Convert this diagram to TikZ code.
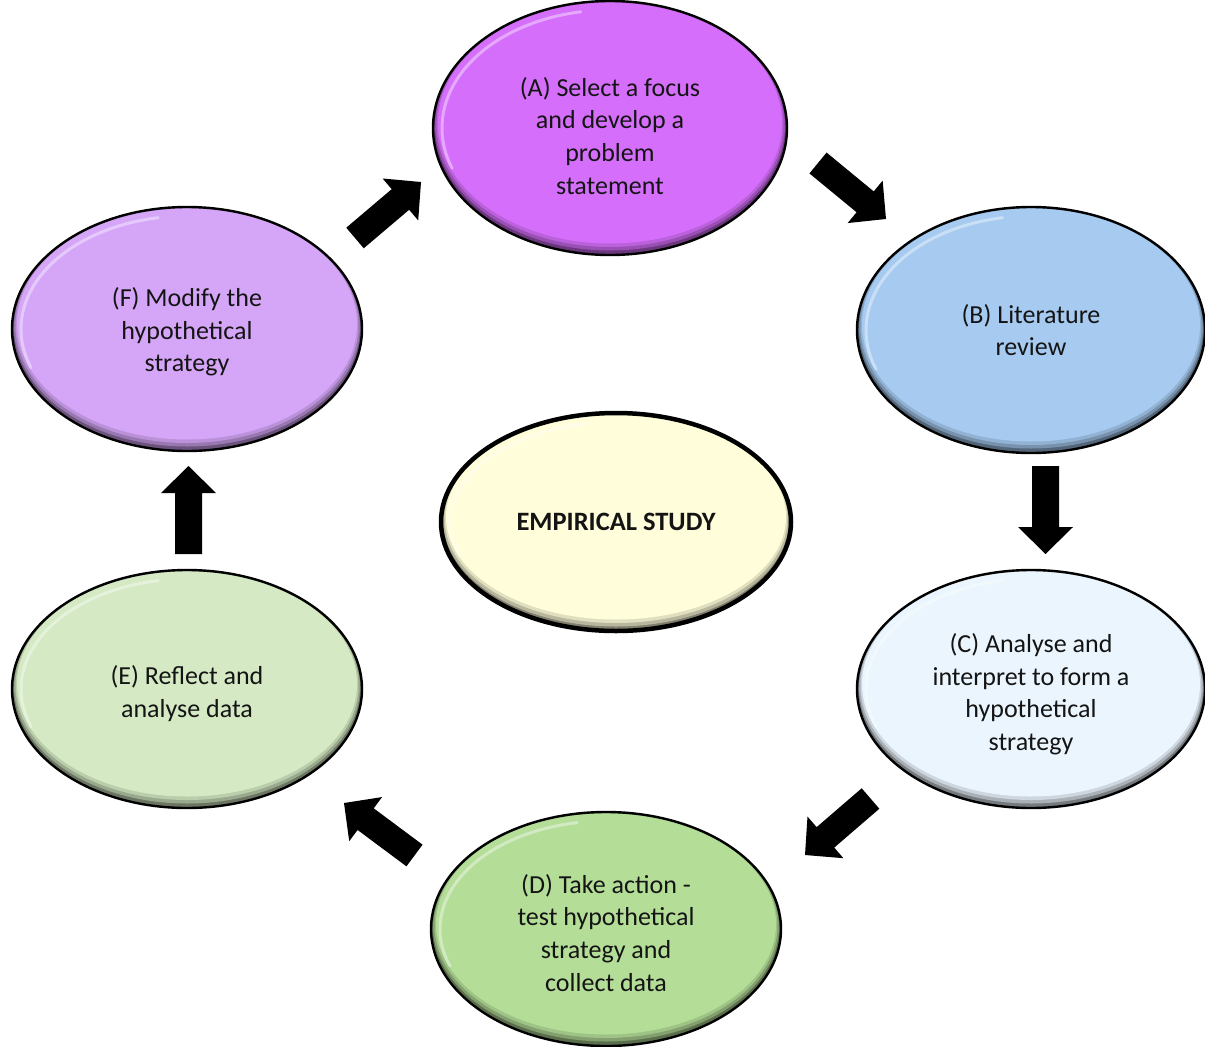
\documentclass[tikz,border=0pt]{standalone}
\usepackage{fontspec}
\setmainfont{Carlito}
\usetikzlibrary{shapes.geometric,calc}

\definecolor{fillA}{RGB}{213,110,250}
\definecolor{fillB}{RGB}{166,202,240}
\definecolor{fillC}{RGB}{234,245,253}
\definecolor{fillD}{RGB}{180,221,152}
\definecolor{fillE}{RGB}{213,234,196}
\definecolor{fillF}{RGB}{213,166,248}
\definecolor{fillM}{RGB}{255,253,218}
\definecolor{ink}{RGB}{20,20,20}

\tikzset{
  % raised rim: darker band along the lower edge, light gleam at the upper left
  bevel/.style={path picture={
    \coordinate (pc) at (path picture bounding box.center);
    \coordinate (pr) at (path picture bounding box.north east);
    \fill[#1!50!black] (path picture bounding box.south west) rectangle (path picture bounding box.north east);
    \fill[#1!72!black] let \p1=(pc), \p2=(pr) in ([yshift=2pt]pc) ellipse ({\x2-\x1-2pt} and {\y2-\y1-2.5pt});
    \fill[#1!88!black] let \p1=(pc), \p2=(pr) in ([yshift=3.5pt]pc) ellipse ({\x2-\x1-3.5pt} and {\y2-\y1-4.5pt});
    \fill[#1] let \p1=(pc), \p2=(pr) in ([yshift=5pt]pc) ellipse ({\x2-\x1-5pt} and {\y2-\y1-6.5pt});
    \draw[white, opacity=.4, line width=3pt, line cap=round]
      let \p1=(pc), \p2=(pr), \n1={\x2-\x1-9pt}, \n2={\y2-\y1-9pt} in
      ([xshift={\n1*cos(200)}, yshift={\n2*sin(200)}]pc)
      arc[start angle=200, end angle=100, x radius=\n1, y radius=\n2];
  }},
  stage/.style={ellipse, draw=black, line width=2.4pt, fill=#1, bevel=#1,
    inner sep=0pt, align=center, text=ink,
    font=\fontsize{26}{32.7}\selectfont},
  hub/.style={stage=#1, line width=4.5pt, font=\fontsize{26.5}{32}\selectfont\bfseries},
  arrowfill/.style={fill=black}
}

% taller first line, so the wording sits a little below the middle
\newcommand\topgap[1]{\rule{0pt}{#1}}

% solid block arrow from #1 (tail) to #2 (tip)
\newcommand\blockarrow[2]{%
  \path ($(#2)!27pt!(#1)$) coordinate (hb);
  \fill[arrowfill] ($(#1)!13.5pt!90:(#2)$) -- ($(hb)!13.5pt!90:(#2)$)
    -- ($(hb)!27.5pt!90:(#2)$) -- (#2) -- ($(hb)!27.5pt!-90:(#2)$)
    -- ($(hb)!13.5pt!-90:(#2)$) -- ($(#1)!13.5pt!-90:(#2)$) -- cycle;
}

\begin{document}
\begin{tikzpicture}[x=1pt, y=-1pt]
  \useasboundingbox[fill=white] (0,0) rectangle (1205,1047);

  \node[stage=fillA, minimum width=354pt, minimum height=254pt] (A) at (610,128)
    {\topgap{34.5pt}(A) Select a focus\\and develop a\\problem\\statement};
  \node[stage=fillB, minimum width=348pt, minimum height=246pt] (B) at (1031,330)
    {(B) Literature\\review};
  \node[stage=fillC, minimum width=348pt, minimum height=238pt] (C) at (1031,689)
    {\topgap{29.5pt}(C) Analyse and\\interpret to form a\\hypothetical\\strategy};
  \node[stage=fillD, minimum width=350pt, minimum height=234pt] (D) at (606,929)
    {\topgap{26.5pt}(D) Take action -\\test hypothetical\\strategy and\\collect data};
  \node[stage=fillE, minimum width=350pt, minimum height=238pt] (E) at (187,689)
    {\topgap{28.5pt}(E) Reflect and\\analyse data};
  \node[stage=fillF, minimum width=350pt, minimum height=244pt] (F) at (187,329)
    {\topgap{24.5pt}(F) Modify the\\hypothetical\\strategy};
  \node[hub=fillM, minimum width=350pt, minimum height=218pt] (M) at (616,522)
    {EMPIRICAL STUDY};

  % arrow ends
  \coordinate (ab-tail) at (818,163);    \coordinate (ab-head) at (886,219);
  \coordinate (bc-tail) at (1045.5,466); \coordinate (bc-head) at (1045.5,554);
  \coordinate (cd-tail) at (870.5,798.5);\coordinate (cd-head) at (805,855);
  \coordinate (de-tail) at (414.5,855.5);\coordinate (de-head) at (344,803);
  \coordinate (ef-tail) at (188.5,554);  \coordinate (ef-head) at (188.5,466);
  \coordinate (fa-tail) at (355,238);    \coordinate (fa-head) at (421,182);

  \blockarrow{ab-tail}{ab-head}
  \blockarrow{bc-tail}{bc-head}
  \blockarrow{cd-tail}{cd-head}
  \blockarrow{de-tail}{de-head}
  \blockarrow{ef-tail}{ef-head}
  \blockarrow{fa-tail}{fa-head}
\end{tikzpicture}
\end{document}
